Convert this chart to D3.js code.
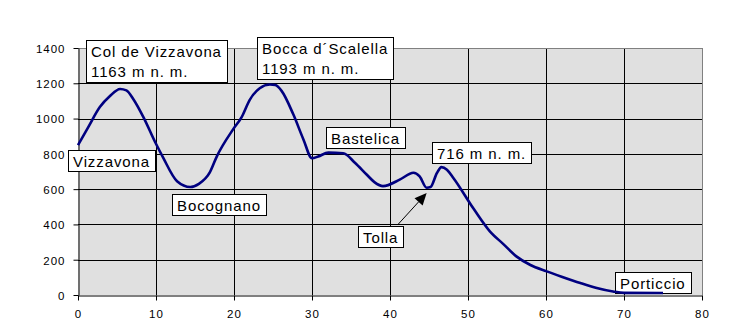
<!DOCTYPE html>
<html lang="en">
<head>
    <meta charset="UTF-8">
    <title>Elevation profile</title>
    <style>
        body { margin: 0; background: #fff; }
        text { font-family: Arial, "Liberation Sans", sans-serif; }
    </style>
    <script src="https://cdn.jsdelivr.net/npm/d3@7"></script>
</head>
<body>
<script>
    // route profile: distance (km) and elevation (m)
    var km = [0, 1.3, 2.8, 4.1, 5.4, 6.2, 7.1, 8.4, 9.9, 10.9, 12.7, 14.4, 15.5, 16.9, 17.8, 19.9, 21, 22, 23.3, 24.6,
        25.3, 26.1, 27.6, 28.9, 30, 30.8, 32.1, 34, 35.5, 37, 38, 39.1, 41.3, 43, 43.8, 44.7, 45.2, 46, 46.6, 47.3,
        48.1, 50.7, 52.8, 54.5, 56.2, 58, 60.1, 62, 64.4, 66.5, 68.6, 70, 75];
    var elevation = [850, 950, 1065, 1128, 1168, 1160, 1110, 1007, 866, 780, 645, 612, 630, 695, 786, 940, 1010, 1105, 1172, 1193,
        1190, 1157, 1024, 882, 775, 785, 807, 803, 750, 683, 640, 617, 655, 693, 672, 608, 612, 690, 725, 710,
        665, 490, 361, 290, 219, 170, 134, 104, 68, 40, 20, 12, 11];

    var xTicks = [0, 10, 20, 30, 40, 50, 60, 70, 80];
    var yTicks = [0, 200, 400, 600, 800, 1000, 1200, 1400];

    // callout labels, anchored at their box top-left (km, m)
    var labelText = [["Col de Vizzavona", "1163 m n. m."], ["Vizzavona"], ["Bocca d\u00b4Scalella", "1193 m n. m."],
        ["Bastelica"], ["716 m n. m."], ["Bocognano"], ["Tolla"], ["Porticcio"]];
    var labelKm = [1.03, -1.32, 22.9, 31.76, 45.35, 12.01, 35.94, 68.85];
    var labelM = [1447, 824, 1462, 955, 865, 572, 393, 128];

    var width = 748, height = 332;
    var margin = {top: 48, right: 46, bottom: 37, left: 78};

    var svg = d3.select("body").append("svg")
        .attr("width", width)
        .attr("height", height);

    var x = d3.scaleLinear().domain([0, 80]).range([margin.left, width - margin.right]);
    var y = d3.scaleLinear().domain([0, 1400]).range([height - margin.bottom, margin.top]);

    var px0 = Math.round(x(0)), px80 = Math.round(x(80));
    var py0 = Math.round(y(0)), py1400 = Math.round(y(1400));

    // plot area
    svg.append("rect")
        .attr("x", px0).attr("y", py1400)
        .attr("width", px80 - px0).attr("height", py0 - py1400)
        .attr("fill", "#e0e0e0");

    // grid as 1px filled bars
    var grid = svg.append("g");
    grid.selectAll(".hgrid").data(yTicks.slice(1, -1)).enter().append("rect")
        .attr("class", "hgrid")
        .attr("x", px0).attr("width", px80 - px0)
        .attr("y", d => Math.round(y(d))).attr("height", 1)
        .attr("fill", "#000");
    grid.selectAll(".vgrid").data(xTicks.slice(1, -1)).enter().append("rect")
        .attr("class", "vgrid")
        .attr("x", d => Math.round(x(d))).attr("width", 1)
        .attr("y", py1400).attr("height", py0 - py1400)
        .attr("fill", "#000");

    // top and right border
    grid.append("rect").attr("x", px0).attr("y", py1400).attr("width", px80 - px0 + 1).attr("height", 1).attr("fill", "#808080");
    grid.append("rect").attr("x", px80).attr("y", py1400).attr("width", 1).attr("height", py0 - py1400).attr("fill", "#808080");

    // axes
    var xAxisG = svg.append("g")
        .attr("transform", "translate(0," + (py0 + 0.5) + ")")
        .call(d3.axisBottom(x).tickValues(xTicks).tickSize(5).tickPadding(9).tickSizeOuter(0));
    var yAxisG = svg.append("g")
        .attr("transform", "translate(" + (px0 + 0.5) + ",0)")
        .call(d3.axisLeft(y).tickValues(yTicks).tickSize(5).tickPadding(8).tickSizeOuter(0)
            .tickFormat(d => d));
    [xAxisG, yAxisG].forEach(function(a) {
        a.select(".domain").attr("stroke", "#000");
        a.selectAll(".tick line").attr("stroke", "#000");
        a.selectAll("text").attr("fill", "#000")
            .style("font-size", "11.5px").style("letter-spacing", "1px")
            .style("font-family", "Arial, 'Liberation Sans', sans-serif");
    });
    yAxisG.selectAll(".tick text").attr("dy", "0.38em");

    // callout boxes
    labelText.forEach(function(lines, i) {
        var lg = svg.append("g")
            .attr("transform", "translate(" + Math.round(x(labelKm[i])) + "," + Math.round(y(labelM[i])) + ")");
        var box = lg.append("rect").attr("fill", "#fff").attr("stroke", "#000")
            .attr("shape-rendering", "crispEdges");
        var t = lg.append("text")
            .style("font-size", "15px")
            .style("letter-spacing", "0.9px")
            .attr("fill", "#000");
        lines.forEach(function(s, j) {
            t.append("tspan").attr("x", 5).attr("y", 16.5 + j * 20).text(s);
        });
        var bb = t.node().getBBox();
        box.attr("x", 0.5).attr("y", 0.5)
            .attr("width", Math.round(bb.width + 10))
            .attr("height", lines.length > 1 ? 42 : 21);
    });

    // profile line
    var profile = d3.line()
        .x(d => x(d[0]))
        .y(d => y(d[1]))
        .curve(d3.curveMonotoneX);

    svg.append("path")
        .datum(d3.zip(km, elevation))
        .attr("d", profile)
        .attr("fill", "none")
        .attr("stroke", "#000080")
        .attr("stroke-width", 2.6)
        .attr("stroke-linejoin", "round");

    // arrow from Tolla to the dip
    var ax1 = x(41.07), ay1 = y(402), ax2 = x(44.7), ay2 = y(578);
    var ang = Math.atan2(ay2 - ay1, ax2 - ax1);
    var headLen = 12, headW = 5.5;
    var bx = ax2 - headLen * Math.cos(ang), by = ay2 - headLen * Math.sin(ang);
    svg.append("path")
        .attr("d", "M" + ax1 + "," + ay1 + "L" + bx + "," + by)
        .attr("stroke", "#000").attr("stroke-width", 1).attr("fill", "none");
    svg.append("path")
        .attr("d", "M" + ax2 + "," + ay2 +
            "L" + (bx + headW * Math.sin(ang)) + "," + (by - headW * Math.cos(ang)) +
            "L" + (bx - headW * Math.sin(ang)) + "," + (by + headW * Math.cos(ang)) + "Z")
        .attr("fill", "#000");
</script>
</body>
</html>
